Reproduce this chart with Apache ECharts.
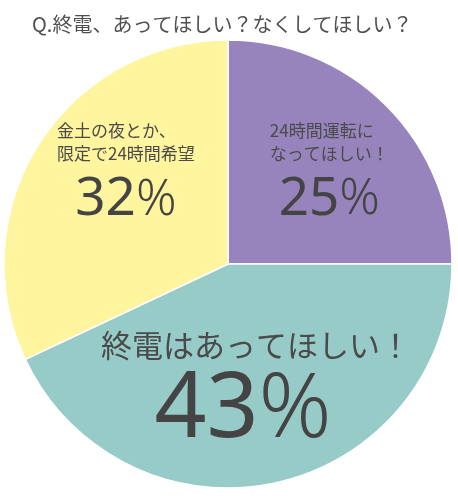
<!DOCTYPE html>
<html>
<head>
<meta charset="utf-8">
<script src="https://cdn.jsdelivr.net/npm/echarts@6/dist/echarts.min.js"></script>
<style>
  html, body { margin: 0; padding: 0; background: #fff; }
  #main { width: 458px; height: 500px; }
</style>
</head>
<body>
<div id="main"></div>
<script>
// data
const titleText = 'Q.終電、あってほしい？なくしてほしい？';
const categories = ['24時間運転に\nなってほしい！', '終電はあってほしい！', '金土の夜とか、\n限定で24時間希望'];
const values = [25, 43, 32];
const colors = ['#9884bd', '#97cbc8', '#fef59e'];

// nudges for the labels, per slice
const labelShift = [
  { dx: 20, dy: -9 },
  { dx: 3, dy: 16 },
  { dx: -5, dy: -28 }
];

const jp = '"Noto Sans CJK JP", "Noto Sans", sans-serif';
const num = '"Noto Sans", "Open Sans", sans-serif';

function smallRich() {
  return {
    t: { fontFamily: jp, fontSize: 17, color: '#4a4a4a', lineHeight: 23, align: 'left' },
    n: { fontFamily: num, fontSize: 53, color: '#444', lineHeight: 64, align: 'center', padding: [6, 0, 0, 0] },
    p: { fontFamily: num, fontSize: 50, fontWeight: 300, color: '#444', lineHeight: 64, align: 'center', padding: [6, 0, 0, 0] }
  };
}

const bigRich = {
  t: { fontFamily: jp, fontSize: 31, color: '#4a4a4a', lineHeight: 38, align: 'center' },
  n: { fontFamily: num, fontSize: 91, color: '#444', lineHeight: 94, align: 'center' },
  p: { fontFamily: num, fontSize: 90, fontWeight: 300, color: '#444', lineHeight: 94, align: 'center', padding: [0, 26, 0, 0] }
};

const pieData = categories.map((name, i) => ({
  name: name,
  value: values[i],
  itemStyle: { color: colors[i] },
  label: { rich: i === 1 ? bigRich : smallRich() }
}));

const chart = echarts.init(document.getElementById('main'));
chart.setOption({
  animation: false,
  title: {
    text: titleText,
    left: 27,
    top: 9,
    textStyle: { fontFamily: jp, fontSize: 20, fontWeight: 'normal', color: '#4f4f4f' }
  },
  series: [{
    type: 'pie',
    center: [228, 264],
    radius: 224,
    startAngle: 90,
    clockwise: true,
    avoidLabelOverlap: false,
    itemStyle: { borderColor: '#fff', borderWidth: 1.5 },
    emphasis: { disabled: true },
    label: {
      show: true,
      position: 'inside',
      formatter: p => {
        const lines = p.name.split('\n').map(s => '{t|' + s + '}').join('\n');
        return lines + '\n{n|' + p.value + '}{p|%}';
      }
    },
    labelLine: { show: false },
    labelLayout: params => labelShift[params.dataIndex],
    data: pieData
  }]
});
</script>
</body>
</html>
